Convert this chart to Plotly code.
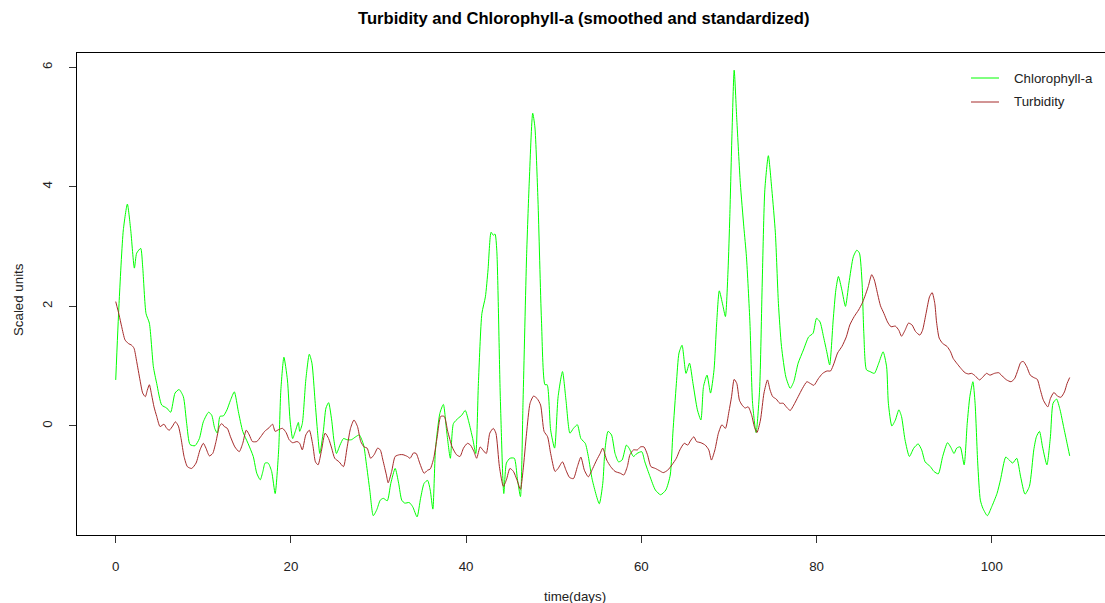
import plotly.graph_objects as go

# ---------------- data ----------------
chl_days = [
    0, 0.38, 0.87, 1.33, 1.71, 2.13, 2.39, 2.85, 3.08, 3.46,
    3.84, 4.3, 4.68, 5.25, 5.82, 6.27, 6.77, 7.23, 7.72, 8.1,
    8.48, 9.05, 9.55, 10.0, 10.6, 10.96, 11.3, 11.6, 11.9, 12.3,
    12.7, 13.1, 13.54, 14.0, 14.5, 15.1, 15.7, 16.1, 16.5, 16.8,
    17.05, 17.4, 17.8, 18.2, 18.6, 18.85, 19.2, 19.6, 19.9, 20.2,
    20.5, 20.85, 21.0, 21.3, 21.7, 22.1, 22.4, 22.75, 23.05, 23.3,
    23.7, 24.0, 24.3, 24.65, 24.9, 25.2, 25.6, 26.0, 26.4, 26.9,
    27.4, 27.8, 28.3, 28.6, 29.0, 29.4, 29.8, 30.2, 30.55, 31.0,
    31.4, 31.9, 32.3, 32.65, 33.0, 33.5, 33.9, 34.4, 34.8, 35.2,
    35.6, 35.9, 36.2, 36.5, 37.0, 37.4, 37.8, 38.2, 38.55, 39.1,
    39.5, 39.9, 40.3, 40.75, 41.1, 41.4, 41.8, 42.2, 42.5, 42.85,
    43.1, 43.3, 43.5, 43.9, 44.3, 44.6, 45.0, 45.5, 45.85, 46.2,
    46.5, 46.9, 47.2, 47.6, 47.85, 48.2, 48.6, 49.0, 49.25, 49.65,
    50.1, 50.5, 51.0, 51.4, 51.85, 52.25, 52.7, 53.1, 53.6, 53.95,
    54.4, 55.2, 55.6, 55.85, 56.2, 56.6, 57.0, 57.4, 57.8, 58.3,
    58.6, 59.1, 59.5, 60.05, 60.4, 61.0, 61.6, 62.2, 62.8, 63.3,
    63.6, 64.0, 64.3, 64.65, 65.1, 65.5, 65.9, 66.4, 66.8, 67.1,
    67.5, 67.9, 68.3, 68.6, 68.9, 69.3, 69.6, 69.9, 70.1, 70.35,
    70.6, 70.9, 71.3, 71.7, 72.0, 72.4, 72.7, 73.1, 73.5, 73.8,
    74.1, 74.5, 74.9, 75.3, 75.65, 76.0, 76.5, 77.0, 77.4, 77.9,
    78.5, 79.1, 79.6, 80.0, 80.4, 80.8, 81.2, 81.5, 81.9, 82.2,
    82.5, 82.9, 83.3, 83.7, 84.2, 84.6, 84.9, 85.2, 85.4, 85.7,
    86.1, 86.6, 87.1, 87.6, 88.0, 88.2, 88.6, 89.0, 89.4, 89.7,
    90.1, 90.6, 91.1, 91.6, 92.0, 92.4, 93.0, 93.4, 93.9, 94.4,
    94.95, 95.3, 95.7, 96.0, 96.4, 96.85, 97.2, 97.5, 97.85, 98.1,
    98.4, 98.7, 99.0, 99.5, 100.0, 100.6, 101.0, 101.6, 102.0, 102.4,
    102.85, 103.3, 103.8, 104.3, 104.8, 105.1, 105.45, 105.8, 106.3, 106.7,
    107.0, 107.4, 107.8, 108.2, 108.6, 108.9,
]
chl_values = [
    0.77, 2.05, 3.28, 3.71, 3.28, 2.64, 2.89, 2.97, 2.66, 1.88,
    1.72, 0.99, 0.71, 0.35, 0.30, 0.23, 0.55, 0.61, 0.49, 0.04,
    -0.31, -0.33, -0.21, 0.07, 0.23, 0.18, -0.04, -0.12, 0.16, 0.17,
    0.27, 0.43, 0.57, 0.24, -0.09, -0.29, -0.51, -0.79, -0.90, -0.76,
    -0.62, -0.62, -0.76, -1.13, -0.40, 0.60, 1.15, 0.77, 0.10, -0.21,
    -0.09, 0.06, -0.09, 0.04, 0.77, 1.20, 1.05, 0.43, -0.12, -0.46,
    -0.09, 0.30, 0.39, 0.10, -0.23, -0.46, -0.32, -0.21, -0.23, -0.23,
    -0.18, -0.15, -0.32, -0.62, -1.07, -1.50, -1.40, -1.24, -1.21, -1.25,
    -0.96, -0.71, -0.96, -1.24, -1.29, -1.28, -1.35, -1.52, -1.21, -0.96,
    -0.91, -1.07, -1.39, -0.40, 0.21, 0.36, -0.12, -0.54, 0.04, 0.13,
    0.18, 0.26, 0.07, -0.21, -0.46, 0.71, 1.88, 2.16, 2.61, 3.24,
    3.19, 3.21, 2.94, 0.49, -1.13, -0.62, -0.54, -0.54, -0.88, -1.18,
    0.43, 2.83, 4.06, 5.23, 5.00, 3.78, 1.77, 0.69, 0.69, -0.07,
    -0.37, 0.49, 0.91, 0.43, -0.12, -0.04, 0.02, -0.21, -0.29, -0.51,
    -0.90, -1.30, -0.96, -0.40, -0.09, -0.15, -0.46, -0.60, -0.57, -0.32,
    -0.37, -0.51, -0.46, -0.43, -0.60, -0.85, -1.07, -1.15, -1.07, -0.82,
    -0.12, 0.71, 1.22, 1.35, 0.88, 1.05, 0.71, 0.27, 0.10, 0.66,
    0.85, 0.55, 0.94, 1.72, 2.26, 2.02, 1.83, 2.61, 3.50, 4.89,
    5.95, 5.12, 4.06, 3.33, 2.83, 1.72, 0.38, -0.11, 0.60, 2.39,
    3.95, 4.52, 3.95, 3.23, 2.05, 1.33, 0.82, 0.63, 0.74, 1.05,
    1.27, 1.49, 1.55, 1.80, 1.74, 1.49, 1.22, 1.02, 1.77, 2.27,
    2.50, 2.27, 2.00, 2.39, 2.83, 2.94, 2.89, 2.39, 1.55, 0.94,
    0.91, 0.88, 1.05, 1.24, 0.99, 0.38, 0.00, 0.10, 0.27, 0.16,
    -0.23, -0.51, -0.37, -0.30, -0.40, -0.60, -0.68, -0.76, -0.80, -0.51,
    -0.28, -0.35, -0.46, -0.37, -0.35, -0.65, 0.04, 0.49, 0.74, 0.38,
    -0.62, -1.24, -1.38, -1.50, -1.35, -1.13, -0.90, -0.52, -0.57, -0.62,
    -0.54, -0.85, -1.14, -1.01, -0.40, -0.18, -0.09, -0.35, -0.65, -0.18,
    0.38, 0.45, 0.27, -0.01, -0.29, -0.50,
]

turb_days = [
    0, 0.38, 0.68, 1.06, 1.44, 1.82, 2.09, 2.39, 2.77, 3.08,
    3.38, 3.61, 3.84, 4.1, 4.37, 4.68, 5.06, 5.51, 5.82, 6.12,
    6.5, 6.81, 7.15, 7.46, 7.8, 8.18, 8.67, 9.17, 9.62, 10.0,
    10.3, 10.69, 11.07, 11.45, 11.83, 12.1, 12.4, 12.74, 13.1, 13.6,
    14.1, 14.5, 14.9, 15.25, 15.6, 16.1, 16.55, 17.0, 17.5, 17.9,
    18.2, 18.6, 19.05, 19.45, 19.8, 20.2, 20.7, 21.0, 21.3, 21.7,
    22.1, 22.5, 22.8, 23.1, 23.5, 23.9, 24.3, 24.65, 25.0, 25.5,
    26.0, 26.4, 26.8, 27.2, 27.6, 27.97, 28.35, 28.7, 29.1, 29.5,
    29.9, 30.2, 30.5, 30.9, 31.1, 31.5, 31.9, 32.4, 32.8, 33.3,
    33.6, 34.0, 34.3, 34.7, 35.2, 35.6, 35.9, 36.3, 36.7, 37.1,
    37.5, 37.9, 38.4, 38.9, 39.3, 39.7, 40.15, 40.5, 40.9, 41.2,
    41.6, 41.9, 42.3, 42.7, 43.1, 43.4, 43.8, 44.25, 44.6, 45.0,
    45.4, 45.8, 46.2, 46.5, 46.9, 47.3, 47.7, 48.1, 48.5, 48.9,
    49.3, 49.65, 50.15, 50.5, 51.0, 51.4, 51.8, 52.25, 52.7, 53.1,
    53.5, 53.95, 54.45, 54.9, 55.3, 55.6, 56.05, 56.5, 57.0, 57.6,
    58.0, 58.4, 58.7, 59.1, 59.55, 59.9, 60.3, 60.7, 61.1, 61.6,
    62.1, 62.5, 63.0, 63.5, 64.0, 64.4, 64.9, 65.3, 65.6, 66.0,
    66.3, 66.8, 67.3, 67.7, 68.0, 68.4, 68.8, 69.2, 69.6, 70.0,
    70.3, 70.6, 70.9, 71.2, 71.5, 71.85, 72.2, 72.6, 72.9, 73.2,
    73.6, 74.0, 74.4, 74.7, 75.0, 75.4, 75.8, 76.2, 76.6, 77.0,
    77.4, 77.9, 78.4, 78.9, 79.3, 79.7, 80.2, 80.7, 81.2, 81.6,
    82.0, 82.4, 82.9, 83.4, 83.8, 84.3, 84.8, 85.2, 85.5, 85.9,
    86.3, 86.6, 87.0, 87.3, 87.7, 88.1, 88.5, 89.0, 89.4, 89.7,
    90.1, 90.5, 90.9, 91.3, 91.8, 92.1, 92.5, 92.9, 93.2, 93.5,
    93.7, 94.0, 94.4, 94.9, 95.3, 95.6, 96.0, 96.5, 96.95, 97.35,
    97.7, 98.1, 98.6, 99.0, 99.4, 99.8, 100.3, 100.8, 101.3, 101.7,
    102.2, 102.6, 103.0, 103.3, 103.6, 104.0, 104.4, 104.8, 105.2, 105.5,
    105.9, 106.4, 106.7, 107.1, 107.5, 107.9, 108.3, 108.6, 108.9,
]
turb_values = [
    2.08, 1.86, 1.66, 1.44, 1.38, 1.35, 1.30, 1.08, 0.77, 0.55,
    0.49, 0.60, 0.69, 0.52, 0.32, 0.16, -0.01, 0.03, -0.04, -0.07,
    0.00, 0.07, 0.00, -0.21, -0.51, -0.68, -0.71, -0.62, -0.40, -0.29,
    -0.37, -0.50, -0.46, -0.26, -0.01, 0.04, -0.01, -0.04, -0.18, -0.35,
    -0.43, -0.29, -0.07, -0.15, -0.26, -0.26, -0.18, -0.09, -0.03, 0.03,
    -0.09, -0.06, -0.04, -0.11, -0.23, -0.28, -0.26, -0.29, -0.40, -0.15,
    -0.07, -0.32, -0.60, -0.65, -0.40, -0.12, -0.21, -0.37, -0.54, -0.60,
    -0.68, -0.37, -0.04, 0.10, -0.01, -0.26, -0.35, -0.37, -0.54, -0.48,
    -0.37, -0.40, -0.57, -0.82, -0.95, -0.76, -0.51, -0.48, -0.48, -0.51,
    -0.54, -0.45, -0.46, -0.62, -0.79, -0.74, -0.72, -0.54, -0.18, 0.16,
    0.16, -0.09, -0.35, -0.48, -0.51, -0.37, -0.29, -0.32, -0.43, -0.54,
    -0.35, -0.40, -0.46, -0.12, -0.04, -0.12, -0.68, -1.01, -0.90, -0.71,
    -0.76, -0.90, -1.06, -0.74, -0.12, 0.38, 0.50, 0.46, 0.35, -0.09,
    -0.18, -0.46, -0.76, -0.71, -0.60, -0.74, -0.86, -0.88, -0.68, -0.52,
    -0.74, -0.85, -0.71, -0.57, -0.46, -0.37, -0.57, -0.68, -0.76, -0.79,
    -0.82, -0.68, -0.48, -0.40, -0.40, -0.35, -0.35, -0.48, -0.68, -0.71,
    -0.75, -0.78, -0.74, -0.65, -0.54, -0.40, -0.29, -0.32, -0.25, -0.18,
    -0.26, -0.28, -0.32, -0.40, -0.57, -0.40, -0.12, 0.02, -0.04, 0.24,
    0.49, 0.78, 0.71, 0.43, 0.35, 0.30, 0.32, 0.18, -0.01, -0.11,
    0.10, 0.55, 0.77, 0.60, 0.49, 0.45, 0.38, 0.38, 0.31, 0.26,
    0.35, 0.49, 0.63, 0.74, 0.71, 0.68, 0.79, 0.88, 0.92, 0.92,
    1.05, 1.22, 1.33, 1.49, 1.69, 1.83, 1.94, 2.05, 2.16, 2.33,
    2.53, 2.44, 2.19, 2.01, 1.88, 1.74, 1.66, 1.67, 1.60, 1.50,
    1.60, 1.72, 1.69, 1.58, 1.52, 1.60, 1.88, 2.16, 2.23, 2.05,
    1.74, 1.47, 1.38, 1.33, 1.24, 1.13, 1.05, 0.96, 0.89, 0.87,
    0.88, 0.84, 0.77, 0.82, 0.88, 0.85, 0.88, 0.89, 0.82, 0.77,
    0.74, 0.79, 0.94, 1.06, 1.08, 0.99, 0.85, 0.81, 0.78, 0.63,
    0.43, 0.32, 0.46, 0.56, 0.50, 0.48, 0.57, 0.71, 0.81,
]

x_ticks = [0, 20, 40, 60, 80, 100]
y_ticks = [0, 2, 4, 6]
series_names = ["Chlorophyll-a", "Turbidity"]
series_colors = ["#00ff00", "#a52a2a"]

# ---------------- layout geometry ----------------
W, H = 1105, 603
ML, MR, MT, MB = 77, 0, 53, 68
PW, PH = W - ML - MR, H - MT - MB
FONT = "Liberation Sans, Arial, sans-serif"
TXT = "#222222"


def px(xp):
    return (xp - ML) / PW


def py(yp):
    return (H - MB - yp) / PH


fig = go.Figure()
fig.add_trace(go.Scatter(x=chl_days, y=chl_values, mode="lines",
                         name=series_names[0],
                         line=dict(color=series_colors[0], width=1,
                                   shape="spline", smoothing=0.6)))
fig.add_trace(go.Scatter(x=turb_days, y=turb_values, mode="lines",
                         name=series_names[1],
                         line=dict(color=series_colors[1], width=1,
                                   shape="spline", smoothing=0.6)))

axis_common = dict(showgrid=False, zeroline=False, showline=True,
                   linecolor="#000000", linewidth=1, ticks="outside",
                   ticklen=7, tickwidth=1, tickcolor="#333333",
                   tickfont=dict(family=FONT, size=13.3, color=TXT))

fig.update_layout(
    width=W, height=H,
    margin=dict(l=ML, r=MR, t=MT, b=MB, pad=0),
    paper_bgcolor="white", plot_bgcolor="white",
    showlegend=False,
    xaxis=dict(range=[-4.42, 112.93], tickvals=x_ticks, mirror=True,
               ticklabelstandoff=12, **axis_common),
    yaxis=dict(range=[-1.823, 6.237], tickvals=y_ticks, mirror=False,
               tickangle=-90, ticklabelstandoff=12, **axis_common),
)

annotations = [
    dict(text="<b>Turbidity and Chlorophyll-a (smoothed and standardized)</b>",
         x=px(583), y=py(18), xanchor="center", yanchor="middle",
         font=dict(family=FONT, size=16.6, color="#000000")),
    dict(text="time(days)", x=px(575), y=py(596), xanchor="center",
         yanchor="middle", font=dict(family=FONT, size=13.3, color=TXT)),
    dict(text="Scaled units", x=px(18), y=py(300), xanchor="center",
         yanchor="middle", textangle=-90,
         font=dict(family=FONT, size=13.3, color=TXT)),
]
shapes = []
for i, (name, col) in enumerate(zip(series_names, series_colors)):
    yy = 78 + 24 * i
    shapes.append(dict(type="line", xref="paper", yref="paper",
                       x0=px(971), x1=px(999), y0=py(yy), y1=py(yy),
                       line=dict(color=col, width=1)))
    annotations.append(dict(text=name, x=px(1012), y=py(yy), xanchor="left",
                            yanchor="middle",
                            font=dict(family=FONT, size=13.3, color=TXT)))

for a in annotations:
    a.update(xref="paper", yref="paper", showarrow=False)
fig.update_layout(annotations=annotations, shapes=shapes)

fig.write_html("out.html")
